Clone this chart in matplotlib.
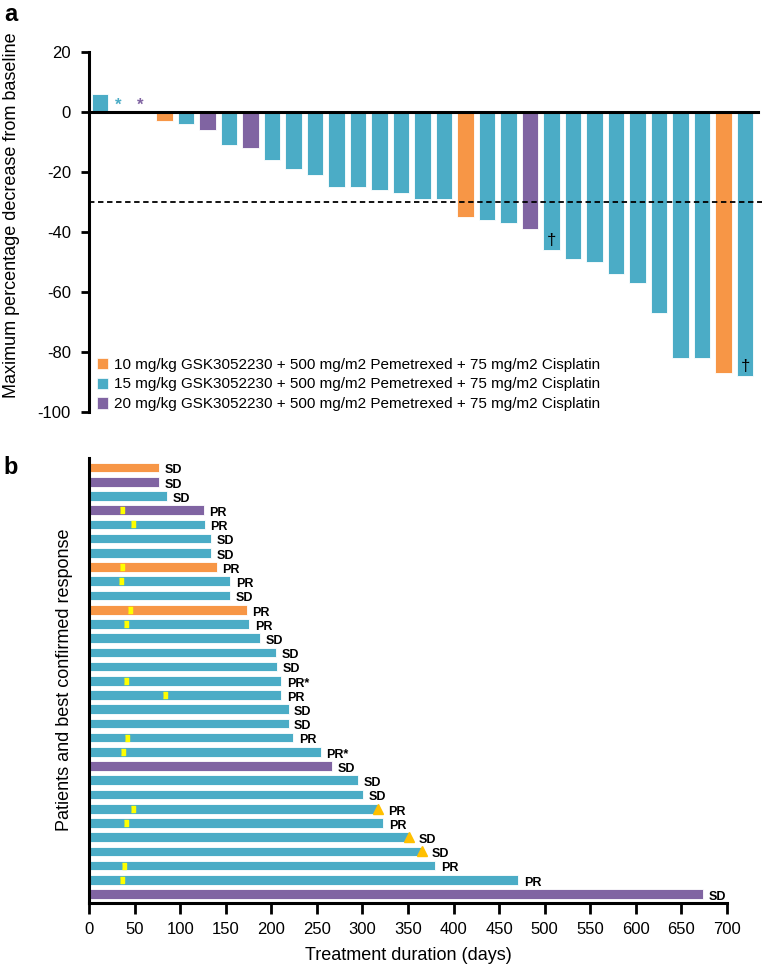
"""Waterfall (a) and swimmer (b) plots of tumour response."""

import matplotlib

matplotlib.use("Agg")
import matplotlib.pyplot as plt
from matplotlib.patches import Patch
import numpy as np

plt.rcParams["font.family"] = ["Liberation Sans", "DejaVu Sans"]
plt.rcParams["axes.unicode_minus"] = False

ORANGE, TEAL, PURPLE = "#F79646", "#4BACC6", "#8064A2"
DOSE_COLOR = {10: ORANGE, 15: TEAL, 20: PURPLE}
REGIMEN = "mg/kg GSK3052230 + 500 mg/m2 Pemetrexed + 75 mg/m2 Cisplatin"

# ---- panel a: best % change from baseline, one bar per patient
pct_change = [6, 0, 0, -3, -4, -6, -11, -12, -16, -19, -21, -25, -25, -26, -27, -29,
              -29, -35, -36, -37, -39, -46, -49, -50, -54, -57, -67, -82, -82, -87, -88]
dose_a = [15, 15, 20, 10, 15, 20, 15, 20, 15, 15, 15, 15, 15, 15, 15, 15,
          15, 10, 15, 15, 20, 15, 15, 15, 15, 15, 15, 15, 15, 10, 15]
star_idx = [1, 2]        # patients with no measurable change
dagger_idx = [21, 30]
threshold = -30

# ---- panel b: treatment duration (days), top row first
duration = [77, 77, 86, 126, 127, 134, 134, 140, 155, 155, 173, 176, 188, 205, 206, 211,
            211, 219, 219, 224, 254, 267, 295, 301, 317, 323, 351, 365, 380, 471, 674]
dose_b = [10, 20, 15, 20, 15, 15, 15, 10, 15, 15, 10, 15, 15, 15, 15, 15,
          15, 15, 15, 15, 15, 20, 15, 15, 15, 15, 15, 15, 15, 15, 20]
response = ["SD", "SD", "SD", "PR", "PR", "SD", "SD", "PR", "PR", "SD", "PR", "PR", "SD",
            "SD", "SD", "PR*", "PR", "SD", "SD", "PR", "PR*", "SD", "SD", "SD", "PR", "PR",
            "SD", "SD", "PR", "PR", "SD"]
nan = np.nan
response_day = [nan, nan, nan, 36, 48, nan, nan, 36, 35, nan, 45, 41, nan, nan, nan, 41,
                83, nan, nan, 42, 37, nan, nan, nan, 48, 41, nan, nan, 38, 36, nan]
triangle_day = [nan] * 24 + [317, nan, 351, 365, nan, nan, nan]

W, H = 762, 967
fig = plt.figure(figsize=(W / 100, H / 100), dpi=100)

# ================= panel a
ax = fig.add_axes([89 / W, 1 - 412 / H, (758 - 89) / W, 360 / H])
x = np.arange(len(pct_change))
ax.bar(x, pct_change, width=0.78, color=[DOSE_COLOR[d] for d in dose_a],
       edgecolor="white", linewidth=0.6, zorder=2)
for i in star_idx:
    ax.text(x[i] - 0.15, 2.4, "*", color=DOSE_COLOR[dose_a[i]], fontsize=12,
            ha="center", va="center", fontweight="bold")
for i in dagger_idx:
    ax.text(x[i], pct_change[i] + 3.3, "\u2020", fontsize=12, ha="center", va="center")
ax.axhline(threshold, xmin=0, xmax=1.006, color="black", lw=1.3, ls=(0, (3, 2)),
           clip_on=False, zorder=3)

ax.set_xlim(-0.51, 30.6)
ax.set_ylim(-100, 20)
ax.set_yticks(range(-100, 21, 20))
ax.set_xticks([])
for s in ("top", "right"):
    ax.spines[s].set_visible(False)
ax.spines["bottom"].set_position(("data", 0))
ax.spines["bottom"].set_zorder(4)
for s in ("left", "bottom"):
    ax.spines[s].set_linewidth(2.2)
ax.tick_params(axis="y", direction="out", length=6, width=2, pad=7, labelsize=12)

handles = [Patch(facecolor=DOSE_COLOR[d], edgecolor="white", lw=0.5) for d in (10, 15, 20)]
ax.legend(handles, [f"{d} {REGIMEN}" for d in (10, 15, 20)], loc="lower left",
          bbox_to_anchor=(0.012, 0.002), frameon=False, fontsize=11,
          handlelength=0.75, handleheight=0.75, handletextpad=0.35,
          labelspacing=0.38, borderpad=0, borderaxespad=0)

fig.text(12 / W, 1 - 215 / H, "Maximum percentage decrease from baseline",
         rotation=90, ha="center", va="center", fontsize=13)
fig.text(4 / W, 1 - 3 / H, "a", fontsize=17, fontweight="bold", ha="left", va="top")

# ================= panel b
bx = fig.add_axes([89 / W, 1 - 903 / H, (727 - 89) / W, 445 / H])
n = len(duration)
y = n - 1 - np.arange(n)
bx.barh(y, duration, height=0.68, color=[DOSE_COLOR[d] for d in dose_b],
        edgecolor="white", linewidth=0.6, zorder=2)
bx.plot(response_day, y, ls="none", marker=[(-0.6, -1), (0.6, -1), (0.6, 1), (-0.6, 1)],
        ms=4.5, color="#FFFF00", mec="#FFFF00", zorder=3)
bx.plot(triangle_day, y, ls="none", marker="^", ms=7, color="#FFC000", zorder=3)
for yi, d, r, t in zip(y, duration, response, triangle_day):
    off = 11 if not np.isnan(t) else 6
    bx.text(d + off, yi - 0.2, r, fontsize=9, fontweight="bold", ha="left", va="center")

bx.set_xlim(0, 700)
bx.set_ylim(-0.63, 30.67)
bx.set_xticks(range(0, 701, 50))
bx.set_yticks([])
for s in ("top", "right"):
    bx.spines[s].set_visible(False)
for s in ("left", "bottom"):
    bx.spines[s].set_linewidth(2.2)
bx.tick_params(axis="x", direction="out", length=8, width=2, pad=6, labelsize=12)
bx.set_xlabel("Treatment duration (days)", fontsize=13, labelpad=7)

fig.text(65 / W, 1 - 680 / H, "Patients and best confirmed response",
         rotation=90, ha="center", va="center", fontsize=13)
fig.text(3 / W, 1 - 456 / H, "b", fontsize=17, fontweight="bold", ha="left", va="top")

fig.savefig("out.png", dpi=100)
